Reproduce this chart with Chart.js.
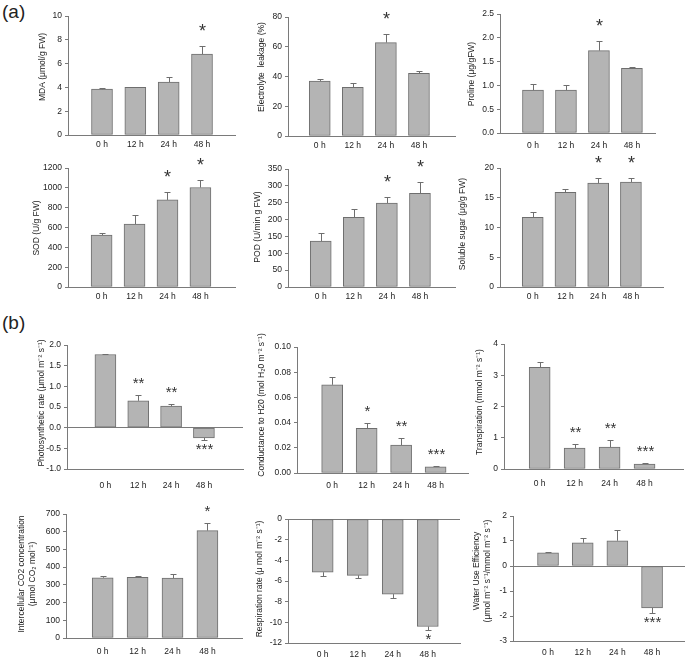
<!DOCTYPE html>
<html>
<head>
<meta charset="utf-8">
<script src="https://cdn.jsdelivr.net/npm/chart.js@4.4.0/dist/chart.umd.min.js"></script>
<style>
  body { margin: 0; background: #fff; }
  #fig { position: relative; width: 685px; height: 659px; overflow: hidden; font-family: "Liberation Sans", Arial, sans-serif; }
  #fig canvas { position: absolute; }
  .tag { position: absolute; font-size: 19px; color: #222; line-height: 22px; }
</style>
</head>
<body>
<div id="fig">
  <div class="tag" style="left:2px;top:1px">(a)</div>
  <div class="tag" style="left:2px;top:312px">(b)</div>
</div>
<script>
// Time points
const hours = ["0 h", "12 h", "24 h", "48 h"];

// (a) physiological indices
const mda = [3.85, 4.0, 4.45, 6.8];
const mdaErr = [0.1, 0.05, 0.45, 0.65];
const mdaSig = ["", "", "", "*"];

const leakage = [37, 32.8, 62.8, 42.2];
const leakageErr = [1.3, 2.5, 5.5, 1.3];
const leakageSig = ["", "", "*", ""];

const proline = [0.9, 0.9, 1.73, 1.36];
const prolineErr = [0.12, 0.11, 0.21, 0.02];
const prolineSig = ["", "", "*", ""];

const sod = [524, 635, 878, 1003];
const sodErr = [20, 91, 85, 71];
const sodSig = ["", "", "*", "*"];

const pod = [136, 207, 249, 278];
const podErr = [24, 23, 17, 32];
const podSig = ["", "", "*", "*"];

const sugar = [11.7, 15.9, 17.45, 17.65];
const sugarErr = [0.9, 0.55, 0.95, 0.65];
const sugarSig = ["", "", "*", "*"];

// (b) gas exchange
const photo = [1.77, 0.65, 0.52, -0.25];
const photoErr = [0.01, 0.14, 0.05, 0.05];
const photoSig = ["", "**", "**", "***"];

const cond = [0.07, 0.0354, 0.0221, 0.0048];
const condErr = [0.006, 0.0045, 0.006, 0.0008];
const condSig = ["", "*", "**", "***"];

const transp = [3.25, 0.67, 0.7, 0.16];
const transpErr = [0.18, 0.13, 0.24, 0.04];
const transpSig = ["", "**", "**", "***"];

const ci = [340, 342, 338, 606];
const ciErr = [8, 10, 25, 45];
const ciSig = ["", "", "", "*"];

const resp = [-5.15, -5.45, -7.27, -10.4];
const respErr = [0.38, 0.3, 0.35, 0.32];
const respSig = ["", "", "", "*"];

const wue = [0.53, 0.93, 1.01, -1.68];
const wueErr = [0.04, 0.2, 0.45, 0.2];
const wueSig = ["", "", "", "***"];

const FONT = '"Liberation Sans", Arial, sans-serif';
const BAR = "#b4b4b4";
const EDGE = "#6e6e6e";
const AXIS = "#7a7a7a";

// panel setup: plot box (L,R,T,B) in page pixels, x range, title centre
const panels = [
  { title: ["MDA (μmol/g FW)"], v: mda, e: mdaErr, s: mdaSig, y: [0, 10, 2, 0],
    box: [68, 235, 16, 135], xr: [-0.02, 4.99], tt: [43, 67], xpad: 5, star: 18 },
  { title: ["Electrolyte  leakage (%)"], v: leakage, e: leakageErr, s: leakageSig, y: [0, 80, 20, 0],
    box: [288, 455, 17, 136], xr: [0.04, 5.09], tt: [262, 67], xpad: 5, star: 18 },
  { title: ["Proline (μg/gFW)"], v: proline, e: prolineErr, s: prolineSig, y: [0, 2.5, 0.5, 1],
    box: [500, 655, 14, 133], xr: [0, 4.7], tt: [472, 74], xpad: 8, star: 18 },
  { title: ["SOD (U/g FW)"], v: sod, e: sodErr, s: sodSig, y: [0, 1200, 200, 0],
    box: [68, 235, 168, 287], xr: [-0.02, 5.05], tt: [37, 228], xpad: 4.5, star: 18 },
  { title: ["POD (U/min g FW)"], v: pod, e: podErr, s: podSig, y: [0, 350, 50, 0],
    box: [288, 455, 169, 287], xr: [0.01, 5.06], tt: [258, 227], xpad: 4.5, star: 18 },
  { title: ["Soluble sugar (μg/g FW)"], v: sugar, e: sugarErr, s: sugarSig, y: [0, 20, 5, 0],
    box: [500, 663, 168, 287], xr: [0, 4.98], tt: [463, 224], xpad: 4.5, star: 18 },
  { title: ["Photosynthetic rate (μmol m⁻² s⁻¹)"], v: photo, e: photoErr, s: photoSig, y: [-1, 2, 0.5, 1],
    box: [67, 243, 345, 469], xr: [-0.17, 5.19], tt: [42, 403], xpad: 12, star: 15 },
  { title: ["Conductance to H20 (mol H₂0 m⁻² s⁻¹)"], v: cond, e: condErr, s: condSig, y: [0, 0.1, 0.02, 2],
    box: [297, 468, 347, 473], xr: [-0.02, 4.94], tt: [262, 405], xpad: 8, star: 15 },
  { title: ["Transpiration (mmol m⁻² s⁻¹)"], v: transp, e: transpErr, s: transpSig, y: [0, 4, 1, 0],
    box: [504, 683, 344, 469], xr: [-0.02, 5.1], tt: [480, 402], xpad: 10, star: 15 },
  { title: ["Intercellular CO2 concentration", "(μmol CO₂ mol⁻¹)"], v: ci, e: ciErr, s: ciSig, y: [0, 700, 100, 0],
    box: [66, 242, 514, 638], xr: [-0.05, 4.99], tt: [27, 574], xpad: 9, star: 15 },
  { title: ["Respiration rate (μ mol m⁻² s⁻¹)"], v: resp, e: respErr, s: respSig, y: [-12, 0, 2, 0],
    box: [288, 460, 519, 643], xr: [0.01, 4.92], tt: [260, 579], xpad: 6.5, star: 15 },
  { title: ["Water Use Efficiency", "(μmol m⁻² s⁻¹/mmol m⁻² s⁻¹)"], v: wue, e: wueErr, s: wueSig, y: [-3, 2, 1, 0],
    box: [513, 685, 516, 641], xr: [-0.01, 4.95], tt: [482, 571], xpad: 6.5, star: 15 }
];

const fig = document.getElementById("fig");
const YW = 58, PADTOP = 22, XH = 26, PADR = 6;

panels.forEach(p => {
  const [L, R, T, B] = p.box;
  const left = L - YW, top = T - PADTOP;
  const canvas = document.createElement("canvas");
  canvas.width = R - L + YW + PADR;
  canvas.height = B - T + PADTOP + XH;
  canvas.style.left = left + "px";
  canvas.style.top = top + "px";
  fig.appendChild(canvas);

  // y axis title, rotated
  const titlePlugin = {
    id: "yTitle",
    afterDraw(chart) {
      const ctx = chart.ctx;
      ctx.save();
      ctx.font = "8.5px " + FONT;
      ctx.fillStyle = "#222";
      ctx.textAlign = "center";
      ctx.textBaseline = "middle";
      ctx.translate(p.tt[0] - left, p.tt[1] - top);
      ctx.rotate(-Math.PI / 2);
      const n = p.title.length;
      p.title.forEach((t, i) => ctx.fillText(t, 0, (i - (n - 1) / 2) * 10.6));
      ctx.restore();
    }
  };

  // error bars and significance stars
  const errPlugin = {
    id: "errStars",
    afterDatasetsDraw(chart) {
      const ctx = chart.ctx;
      const ys = chart.scales.y;
      const meta = chart.getDatasetMeta(0);
      ctx.save();
      ctx.strokeStyle = EDGE;
      ctx.lineWidth = 1;
      meta.data.forEach((bar, i) => {
        const val = p.v[i], err = p.e[i];
        const dir = val < 0 ? -1 : 1;
        const x = Math.round(bar.x) + 0.5;
        const y0 = ys.getPixelForValue(val);
        const y1 = Math.round(ys.getPixelForValue(val + dir * err)) + 0.5;
        ctx.beginPath();
        ctx.moveTo(x, y0);
        ctx.lineTo(x, y1);
        ctx.moveTo(x - 3, y1);
        ctx.lineTo(x + 3, y1);
        ctx.stroke();
        if (p.s[i]) {
          ctx.font = p.star + "px " + FONT;
          ctx.fillStyle = "#333";
          ctx.textAlign = "center";
          ctx.textBaseline = "alphabetic";
          const m = ctx.measureText(p.s[i]);
          let yy;
          if (dir > 0) yy = y1 - 3.5 + m.actualBoundingBoxDescent;
          else yy = y1 + 3.5 + m.actualBoundingBoxAscent;
          ctx.fillText(p.s[i], x, yy);
        }
      });
      ctx.restore();
    }
  };

  new Chart(canvas, {
    type: "bar",
    data: {
      datasets: [{
        data: p.v.map((v, i) => ({ x: i + 1, y: v })),
        backgroundColor: BAR,
        borderColor: EDGE,
        borderWidth: 1,
        borderSkipped: false,
        barThickness: 21
      }]
    },
    options: {
      responsive: false,
      animation: false,
      devicePixelRatio: 1,
      layout: { padding: { top: PADTOP, right: PADR, left: 0, bottom: 0 } },
      plugins: { legend: { display: false }, tooltip: { enabled: false } },
      scales: {
        x: {
          type: "linear",
          offset: false,
          min: p.xr[0],
          max: p.xr[1],
          afterBuildTicks: axis => { axis.ticks = [1, 2, 3, 4].map(v => ({ value: v })); },
          afterFit: axis => { axis.height = XH; },
          grid: { display: false, drawTicks: false, offset: false },
          border: { color: AXIS, width: 1 },
          ticks: {
            padding: p.xpad,
            color: "#222",
            font: { family: FONT, size: 8.5 },
            callback: v => hours[v - 1] || ""
          }
        },
        y: {
          min: p.y[0],
          max: p.y[1],
          afterFit: axis => { axis.width = YW; },
          grid: {
            color: c => (c.tick && c.tick.value === 0 ? AXIS : "rgba(0,0,0,0)"),
            tickColor: AXIS,
            tickLength: 3
          },
          border: { color: AXIS, width: 1 },
          ticks: {
            stepSize: p.y[2],
            padding: 3,
            color: "#222",
            font: { family: FONT, size: 8.5 },
            callback: v => Number(v).toFixed(p.y[3])
          }
        }
      }
    },
    plugins: [titlePlugin, errPlugin]
  });
});
</script>
</body>
</html>
